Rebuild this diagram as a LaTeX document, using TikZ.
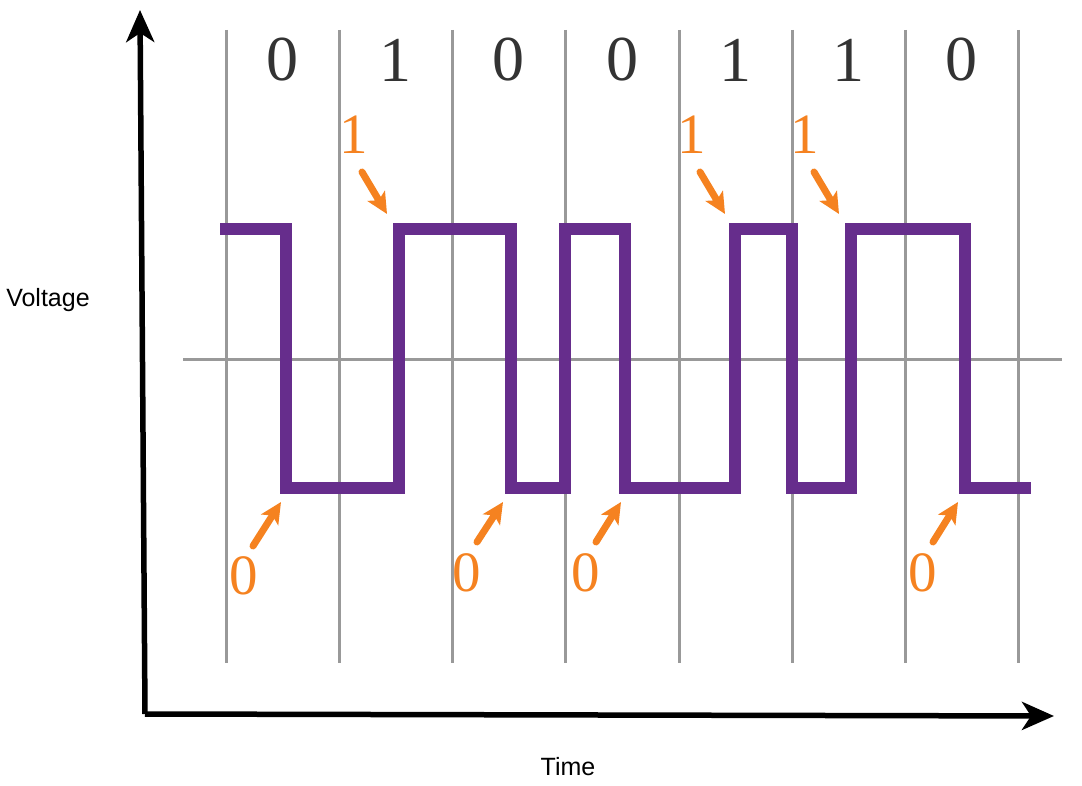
\documentclass[tikz,border=0pt]{standalone}
\usepackage{fontspec}
\setmainfont{Liberation Serif}
\newfontfamily\labelfont{Liberation Sans}
\usetikzlibrary{arrows.meta}
\definecolor{signalpurple}{HTML}{662D8C}
\definecolor{markorange}{HTML}{F58220}
\definecolor{gridgray}{HTML}{999999}
\definecolor{bitink}{HTML}{333333}

\begin{document}
\begin{tikzpicture}[
  x=1pt,
  y=-1pt,
  bit/.style={bitink, font=\fontsize{64}{70}\selectfont},
  bitmark/.style={markorange, font=\fontsize{57}{60}\selectfont},
  pointer/.style={markorange, line width=7pt, line cap=round,
    -{Stealth[length=21pt, width=20pt, inset=5pt]}},
  axis/.style={black, line width=5.5pt,
    -{Stealth[length=32pt, width=28pt, inset=9pt]}}
]
  \useasboundingbox (0,0) rectangle (1082,786);

  % grid
  \draw[gridgray, line width=3pt] (226,30) -- (226,663);
  \draw[gridgray, line width=3pt] (339,30) -- (339,663);
  \draw[gridgray, line width=3pt] (452,30) -- (452,663);
  \draw[gridgray, line width=3pt] (565,30) -- (565,663);
  \draw[gridgray, line width=3pt] (679,30) -- (679,663);
  \draw[gridgray, line width=3pt] (792,30) -- (792,663);
  \draw[gridgray, line width=3pt] (905,30) -- (905,663);
  \draw[gridgray, line width=3pt] (1018,30) -- (1018,663);
  \draw[gridgray, line width=3pt] (183,360) -- (1062,360);

  % bits
  \node[bit] (b1) at (282,60) {0};
  \node[bit] (b2) at (395,60) {1};
  \node[bit] (b3) at (508,60) {0};
  \node[bit] (b4) at (622,60) {0};
  \node[bit] (b5) at (735,60) {1};
  \node[bit] (b6) at (848,60) {1};
  \node[bit] (b7) at (961,60) {0};

  % signal
  \draw[signalpurple, line width=12pt]
    (220,229) -- (286,229) -- (286,488) -- (399,488) -- (399,229)
    -- (511,229) -- (511,488) -- (565,488) -- (565,229) -- (625,229)
    -- (625,488) -- (735,488) -- (735,229) -- (792,229) -- (792,488)
    -- (851,488) -- (851,229) -- (965,229) -- (965,488) -- (1031,488);

  % transitions
  \coordinate (t1) at (387,214);
  \coordinate (t2) at (725,214);
  \coordinate (t3) at (839,214);
  \coordinate (t4) at (281,502);
  \coordinate (t5) at (503,502);
  \coordinate (t6) at (621,502);
  \coordinate (t7) at (958,502);

  \node[bitmark] (m1) at (354,135) {1};
  \node[bitmark] (m2) at (692,135) {1};
  \node[bitmark] (m3) at (805,135) {1};
  \node[bitmark] (m4) at (244,576) {0};
  \node[bitmark] (m5) at (467,573) {0};
  \node[bitmark] (m6) at (586,573) {0};
  \node[bitmark] (m7) at (923,573) {0};

  \draw[pointer] (362,172) -- (t1);
  \draw[pointer] (700,172) -- (t2);
  \draw[pointer] (814,172) -- (t3);
  \draw[pointer] (253,546) -- (t4);
  \draw[pointer] (477,542) -- (t5);
  \draw[pointer] (596,542) -- (t6);
  \draw[pointer] (933,542) -- (t7);

  % axes
  \coordinate (origin) at (145,714);
  \coordinate (ytip) at (140,10);
  \coordinate (xtip) at (1054,716);
  \draw[axis] (origin) -- (ytip);
  \draw[axis] (origin) -- (xtip);

  \node[font=\labelfont\fontsize{25}{28}\selectfont] (ylabel) at (48,300) {Voltage};
  \node[font=\labelfont\fontsize{25}{28}\selectfont] (xlabel) at (568,767) {Time};
\end{tikzpicture}
\end{document}
